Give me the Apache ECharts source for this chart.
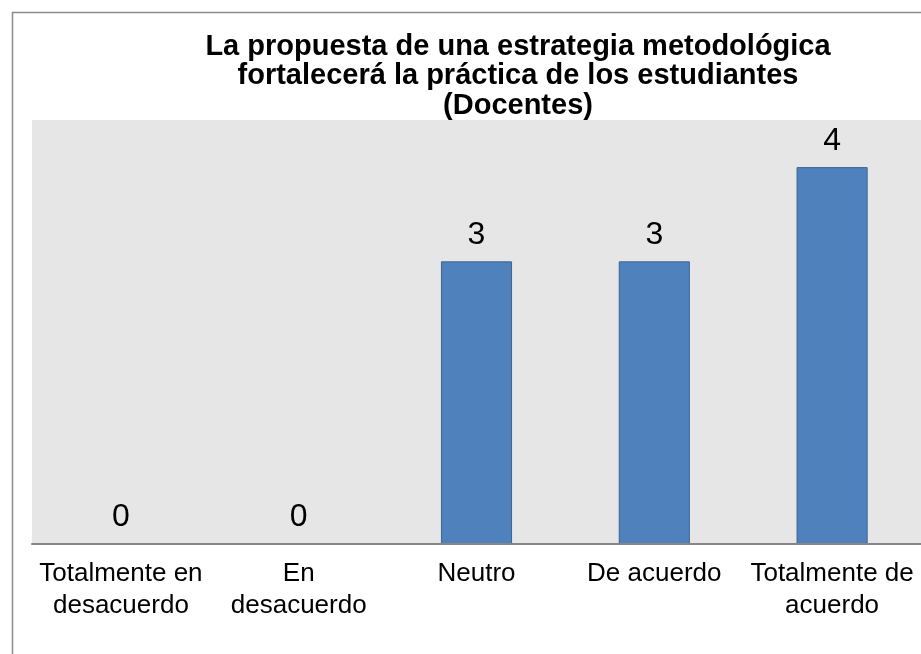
<!DOCTYPE html>
<html>
<head>
<meta charset="utf-8">
<script src="https://cdn.jsdelivr.net/npm/echarts@6/dist/echarts.min.js"></script>
<style>
  html, body { margin: 0; padding: 0; background: #fff; }
  #chart { width: 921px; height: 654px; }
</style>
</head>
<body>
<div id="chart"></div>
<script>
const categories = ['Totalmente en\ndesacuerdo', 'En\ndesacuerdo', 'Neutro', 'De acuerdo', 'Totalmente de\nacuerdo']
const values = [0, 0, 3, 3, 4]
const titleText = 'La propuesta de una estrategia metodológica\nfortalecerá la práctica de los estudiantes\n(Docentes)'

const chart = echarts.init(document.getElementById('chart'))

const option = {
  backgroundColor: '#fff',
  animation: false,
  title: {
    text: titleText,
    left: 513,
    top: 27,
    textAlign: 'center',
    textStyle: {
      fontFamily: 'Liberation Sans',
      fontSize: 29,
      fontWeight: 'bold',
      color: '#000',
      lineHeight: 29.5
    }
  },
  graphic: [
    {
      type: 'rect',
      left: 10,
      top: 10,
      shape: { width: 1000, height: 1000 },
      style: { fill: 'none', stroke: '#8c8c8c', lineWidth: 1.5 },
      z: 100
    }
  ],
  grid: {
    left: 32,
    right: 0,
    top: 120,
    bottom: 110,
    show: true,
    backgroundColor: '#e6e6e6',
    borderWidth: 0
  },
  xAxis: {
    type: 'category',
    data: categories,
    z: 5,
    axisLine: { show: true, lineStyle: { color: '#868686', width: 2 } },
    axisTick: { show: false },
    axisLabel: {
      interval: 0,
      margin: 14,
      color: '#000',
      fontFamily: 'Liberation Sans',
      fontSize: 26,
      lineHeight: 32
    }
  },
  yAxis: {
    type: 'value',
    min: 0,
    max: 4.5,
    show: false,
    splitLine: { show: false }
  },
  series: [
    {
      type: 'bar',
      data: values,
      barWidth: '40%',
      itemStyle: {
        color: '#4f81bd',
        borderColor: '#3b6595',
        borderWidth: 1
      },
      label: {
        show: true,
        position: 'top',
        distance: 10,
        color: '#000',
        fontFamily: 'Liberation Sans',
        fontSize: 32
      }
    }
  ]
}

chart.setOption(option)
</script>
</body>
</html>
